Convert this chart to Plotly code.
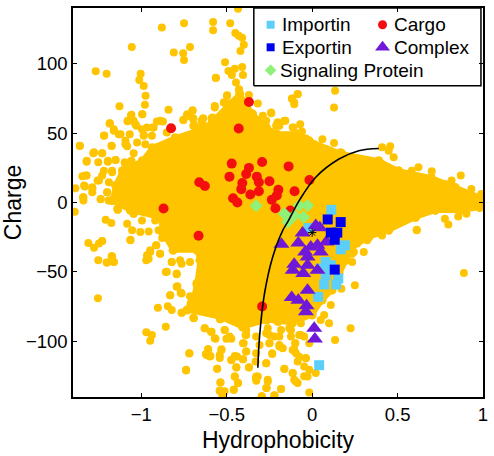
import plotly.graph_objects as go

# Dense core of the cloud (outline of the solid region)
core_x = [-1.169,-1.151,-1.11,-0.994,-0.936,-0.802,-0.628,-0.581,-0.483,-0.424,-0.349,-0.267,-0.209,-0.076,-0.017,0.174,0.39,0.506,0.698,0.837,0.985,0.98,0.872,0.721,0.605,0.448,0.331,0.233,0.198,0.157,0.116,0.058,0,-0.116,-0.267,-0.407,-0.541,-0.733,-0.698,-0.674,-0.657,-0.674,-0.814,-0.872,-0.89,-1.064]
core_y = [1.4,12.2,22.9,30.1,39.4,46.6,53.8,58.8,71,78.1,63.8,53.8,49.5,49.5,44.4,35.1,30.1,22.9,17.9,10.8,3.6,-3.6,-5.7,-5.7,-10.8,-20,-25.1,-32.3,-41.6,-50.9,-63.1,-70.3,-81,-86.7,-84.6,-89.6,-82.4,-77.4,-70.3,-58,-41.6,-34.4,-34.4,-22.2,-10.8,-5.7]

# Individual proteins outside the dense core
other_x = [-0.434,-0.88,-0.75,-0.58,-0.58,-0.48,-0.45,-0.43,-0.41,-0.40,-0.42,-0.715,-0.81,-0.755,-0.75,-1.056,-0.51,-0.49,-0.47,-0.453,-0.41,-0.405,-0.564,-0.446,-0.428,-1.267,-1.203,-1.004,-1.012,-0.986,-0.975,-0.979,-0.994,-1.128,-0.841,-0.70,-0.57,-0.517,-0.498,-1.36,-1.217,-1.184,-1.081,-1.06,-1.045,-1.029,-0.996,-0.986,-0.909,-0.874,-0.754,-0.734,-0.696,-0.641,-0.589,-0.686,-0.643,-0.579,-0.657,-1.281,-1.229,-1.174,-1.151,-1.32,-1.196,-1.097,-1.058,-1.345,-1.32,-1.335,-1.287,-1.287,-1.386,-1.339,-1.339,-1.238,-1.2,-1.19,-1.138,-1.39,-1.161,-1.132,-1.093,-1.083,-1.045,-0.967,-0.932,-0.938,-0.909,-0.812,-0.725,-0.851,-1.229,-1.248,-1.171,-1.107,-1.045,-1.093,-1.083,-1.045,-1.006,-0.967,-1.006,
 -1.31,-1.277,-1.248,-1.229,-1.252,-1.203,-1.174,-1.161,-1.254,-1.064,-0.967,-0.948,-0.913,-0.89,-0.971,-0.857,-0.822,-0.793,-0.764,-0.793,-0.831,-0.769,-0.903,-0.845,-0.822,-0.764,-0.692,-0.715,-0.705,-0.657,-0.857,-0.971,-0.938,-0.948,-0.63,-0.593,-0.566,-0.539,-0.512,-0.483,-0.719,-0.609,-0.622,-0.595,-0.738,-0.556,-0.541,-0.531,-0.473,-0.44,-0.405,-0.37,-0.444,-0.453,-0.434,-0.537,-0.541,-0.517,-0.525,-0.459,-0.386,-0.39,-0.405,-0.386,-0.328,-0.318,-0.328,-0.638,-0.579,-0.676,
 0.888,0.25,0.171,0.109,0.099,0.225,0.134,0.05,0.07,-0.017,-0.182,-0.221,-0.295,-0.269,-0.26,-0.328,-0.163,-0.114,-0.085,-0.105,-0.037,-0.085,-0.047,-0.017,-0.027,0.021,-0.234,-0.269,-0.328,-0.25,-0.192,-0.172,-0.114,-0.095,-0.099,-0.124,-0.182,-0.196,-0.221,-0.269,-0.26,-0.076,-0.047,-0.017,-0.066,0.234,0.244,0.302,0.322,0.264,0.409,0.341,0.612,0.234,
 0.134,0.128,-0.085,-0.118,-0.105,-0.24,-0.289,-0.157,-0.202,-0.211,-0.114,-0.07,-0.06,-0.037,0.06,0.128,0.167,0.457,0.409,0.448,0.477,0.622,0.7,0.87,0.816,0.777,0.932,0.99,0.99,0.903,0.855,0.777,0.797,0.612,0.583,0.525,0.68,0.012,0.079]
other_y = [139.5,126,129,130,124,129,122,120,118.5,113.5,109,112,108,107.5,102.5,112,101,94.6,91.8,96.3,97.5,91.8,89.6,86.3,81,94.4,92.7,92.7,88.2,83.9,76.9,70.3,63.6,69.3,66.7,66,68.3,71.9,76.9,40.6,48.3,57.1,58.5,62.6,58.8,55.2,52.8,48.5,58.3,58.3,59.3,62.4,60,60,60.7,55.2,54.5,54.5,46.8,35.4,35.4,40.6,30.6,29.4,29.4,28.4,29.4,18.9,19.4,12.2,11,7.4,10.3,3.8,1.4,2.4,7.4,1.4,-5.3,-6.7,51.6,49.2,44.4,40.4,35.4,54,54,48,39.7,33.7,48,50.4,19.4,15.8,22.9,19.4,18.2,7.4,1.4,-8.1,-3.3,6.2,25.3,
 -29.2,-32.5,-29.6,-27.7,-41.6,-43.2,-38.7,-42.8,-69,-26.8,-38,-35.6,-30.8,-36.8,-41.6,-50,-42.8,-51.6,-44,-60.7,-66.7,-65,-75.8,-74.6,-77.4,-79.3,-83.4,-75,-67.9,-72.6,-89.4,-93.4,-95.3,-99.6,-90.6,-93,-98,-84.1,-91.8,-96.5,-108.7,-105.6,-109,-110.4,-120.9,-119.7,-109.7,-105.6,-113.3,-110.9,-112.8,-118.5,-118.5,-125.2,-130,-129.5,-135.5,-136,-138.8,-134.8,-91.8,-95.3,-101.3,-107.3,-126.4,-125.2,-96.5,-63.1,-75,-59.5,
 -50.7,-59.5,-62.1,-73.8,-87,-90.6,-98.9,-84.6,-81,-136.7,-134.3,-138.8,-139.5,-133.6,-128.8,-126.4,-119.7,-122.8,-130,-127.6,-112.1,-114.5,-118,-120.4,-125.2,-122.8,-109,-115.7,-108.5,-101.3,-102.5,-104.9,-106.1,-108.5,-101.3,-91.8,-91.8,-85.8,-96.5,-94.2,-90.6,-95.3,-96.5,-101.3,-87,-42.8,-35.6,-35.6,-27.2,-29.6,-23.7,-21.3,-20,-36.8,
 80.5,68.3,78.1,74.6,71.9,64.3,62.4,58.8,57.6,55.2,54,56.4,51.1,46.1,45.6,42.8,36.1,40.4,39.7,37.3,32.5,25.3,22.5,19.4,15.8,13.4,9.8,6.2,-2.2,-8.1,-10,-11.7,-15.8,-19.6,22.9,20.5,17,42,38.5]

# Further proteins read from the closer views of the cloud's edge
edge_x = [-1.058,-0.995,-1.186,-1.079,-1.035,-1.161,-1.122,-1.219,-1.068,-0.986,-0.928,-0.89,-1.174,-1.093,-1.025,-0.977,-1.36,-1.277,-1.229,-1.32,-1.252,-1.196,-1.151,-1.097,-1.058,-1.219,-1.171,-1.112,-1.326,-1.256,-1.19,-1.331,-1.287,-1.341,-1.2,-1.238,-1.19,-1.141,-0.725,-0.696,-0.647,-0.734,-0.657,
 -1.138,-1.045,-1.209,-1.176,-1.083,-0.996,-0.919,-1.054,-1.006,-0.957,-0.899,-1.229,-1.064,-0.878,-0.913,-0.948,-0.89,-0.957,-1.171,-1.2,-1.161,-0.822,-0.773,-0.851,-0.793,-0.789,-0.831,-0.769,-0.715,-0.676,-0.715,
 -0.764,-0.764,-0.696,-0.711,-0.628,-0.589,-0.537,-0.57,-0.512,-0.502,-0.473,-0.401,-0.386,-0.719,-0.609,-0.618,-0.599,-0.531,-0.541,-0.738,-0.556,-0.473,-0.453,-0.405,-0.386,-0.444,-0.37,-0.331,-0.308,-0.25,-0.269,-0.234,-0.453,-0.434,-0.537,-0.541,-0.512,-0.521,-0.459,-0.327,-0.327,-0.26,-0.266,-0.182,-0.221,-0.295,-0.163,-0.114,-0.095,-0.192,-0.099,-0.105,-0.076,-0.037,-0.047,-0.25,-0.192,-0.124,-0.202,-0.134,-0.066,
 -0.564,-0.498,-0.428,-0.37,-0.57,-0.517,-0.7,-0.731,-0.754,-0.696,-0.638,-0.583,-0.692,-0.638,-0.583,-0.653,-0.318,-0.24,-0.269,-0.163,-0.202,-0.11,-0.118,-0.085,-0.105,-0.24,-0.192]
edge_y = [63.1,63.6,56.9,58.8,56.4,52.8,49.2,48,49.2,48,54,58.8,40.9,42,43.2,42,40.9,36.1,35.4,30.1,28.9,30.1,30.6,28.9,30.1,22.9,21.7,22.9,19.4,15.8,14.6,11.5,9.8,3.8,7.4,2.6,1.4,-4.5,62.4,55.2,58.8,46.8,46.8,
 -5.3,-8.1,-12.4,-14.8,-15.3,-12.9,-12.9,-20,-21.3,-20.8,-20,-27.7,-27.2,-25.6,-30.8,-34.4,-36.8,-40.4,-38.7,-43.2,-42.8,-42.8,-41.6,-49.9,-51.1,-60.2,-66.7,-65,-67.4,-58.3,-42.8,
 -65.5,-79.3,-83,-72.6,-90.6,-93,-84.1,-97.7,-91.8,-98,-98,-101.3,-95.3,-108.5,-105.6,-109.7,-110.9,-106.1,-112,-120.4,-119.7,-113.3,-110.4,-112.8,-107.3,-118.8,-118.8,-114.5,-102.5,-101.3,-115.7,-108.5,-125.2,-130,-129.5,-135.5,-135.9,-139,-134.8,-125.2,-128.3,-127.6,-133.6,-134.3,-139,-139.5,-119.9,-122.8,-128.8,-103.6,-101.3,-106,-111,-112,-125,-95.3,-96.5,-96.5,-85.8,-90.6,-95.3,
 89.8,77.2,81.5,77.4,69.5,71.9,66.4,63.6,59.3,60.7,60.7,61.2,55.2,55.7,56.4,46.8,71.2,64.8,58.8,58.8,57.6,54,74.8,77.9,70.7,50.4,55.2]

cargo_x = [-0.826,-0.37,-0.43,-0.661,-0.628,-0.87,-0.665,-0.471,-0.293,-0.138,-0.37,-0.386,-0.484,-0.324,-0.312,-0.25,-0.409,-0.415,-0.312,-0.362,-0.463,-0.438,-0.198,-0.207,-0.236,-0.215,-0.103,-0.016,-0.128,-0.293]
cargo_y = [53.5,72.4,53.3,14.6,11.9,-4.3,-23.9,28,29.2,26,24.9,20.5,18.6,18.6,14.6,15.3,14,9.6,8.1,5.7,3.1,0,9.1,5,1.9,-4.1,8.1,16.2,-5.7,-74.8]

signal_x = [-0.328,-0.027,-0.076,-0.05,-0.163,-0.143,-0.105]
signal_y = [-2.4,-2.2,-2.2,-10.5,-8.1,-14.1,-9.3]

importin_x = [0.112,-0.021,0.192,0.167,0.079,0.05,0.109,0.079,0.153,0.141,0.07,0.035,0.041]
importin_y = [-5.3,-18.4,-30.8,-33.7,-42.8,-47.6,-45.2,-52.3,-54.7,-59,-59,-67.9,-117.1]

exportin_x = [0.091,0.167,0.109,0.147,0.132,0.132]
exportin_y = [-12.2,-14.1,-21.7,-21.7,-26.8,-48.3]

complex_x = [0.021,0.045,-0.056,-0.18,-0.081,0.083,0.031,-0.008,-0.041,0.05,-0.027,-0.105,-0.114,-0.027,0.031,-0.052,-0.027,-0.12,-0.081,-0.033,-0.037,0.012,0.016]
complex_y = [-16.5,-18.2,-22,-30.1,-29.2,-28.4,-30.8,-32,-35.6,-35.6,-39.2,-44.4,-48.7,-45.2,-48.7,-51.1,-63.1,-68.3,-70.3,-74.3,-78.6,-90.6,-98.2]

star_x = [0]
star_y = [-21.7]

curve_x = [-0.318,-0.308,-0.279,-0.231,-0.172,-0.143,-0.076,0.021,0.157,0.273,0.39]
curve_y = [-119,-96.5,-65.5,-39.2,-20,-14,1.4,18.2,31.3,37.3,38.9]

ORANGE = "#FFC400"
RED = "#F40F0F"
GREEN = "#8FF07A"
LIGHT = "#5CCFF8"
BLUE = "#0000F0"
PURPLE = "#7018D8"
FONT = "Liberation Sans"

fig = go.Figure()
fig.add_trace(go.Scatter(x=core_x + core_x[:1], y=core_y + core_y[:1], mode="lines+markers", fill="toself",
                         fillcolor=ORANGE, line=dict(color=ORANGE, width=5),
                         marker=dict(color=ORANGE, size=9), showlegend=False, hoverinfo="skip"))
fig.add_trace(go.Scatter(x=other_x + edge_x, y=other_y + edge_y, mode="markers", name="All proteins", showlegend=False,
                         marker=dict(color=ORANGE, size=8, line=dict(width=0))))
fig.add_trace(go.Scatter(x=cargo_x, y=cargo_y, mode="markers", name="Cargo", showlegend=False,
                         marker=dict(color=RED, size=10, line=dict(width=0))))
fig.add_trace(go.Scatter(x=signal_x, y=signal_y, mode="markers", name="Signaling Protein", showlegend=False,
                         marker=dict(color=GREEN, size=10, symbol="diamond", line=dict(width=0))))
fig.add_trace(go.Scatter(x=importin_x, y=importin_y, mode="markers", name="Importin", showlegend=False,
                         marker=dict(color=LIGHT, size=10, symbol="square", line=dict(width=0))))
fig.add_trace(go.Scatter(x=complex_x, y=complex_y, mode="markers", name="Complex", showlegend=False,
                         marker=dict(color=PURPLE, size=14, symbol="triangle-up", line=dict(width=0))))
fig.add_trace(go.Scatter(x=exportin_x, y=exportin_y, mode="markers", name="Exportin", showlegend=False,
                         marker=dict(color=BLUE, size=10, symbol="square", line=dict(width=0))))
fig.add_trace(go.Scatter(x=curve_x, y=curve_y, mode="lines", line=dict(color="black", width=1.6, shape="spline"),
                         showlegend=False, hoverinfo="skip"))
fig.add_trace(go.Scatter(x=star_x, y=star_y, mode="markers", showlegend=False,
                         marker=dict(color="black", size=7, symbol="asterisk", line=dict(color="black", width=1))))

# Legend panel, drawn in axes-fraction coordinates on an overlay axis pair
box_x = [0.441, 0.995, 0.995, 0.441, 0.441]
box_y = [0.8, 0.8, 1.0, 1.0, 0.8]
fig.add_trace(go.Scatter(x=box_x, y=box_y, xaxis="x2", yaxis="y2", mode="lines", fill="toself", fillcolor="white",
                         line=dict(color="black", width=1.5), showlegend=False, hoverinfo="skip"))
legend_entries = [
    ("Importin", 0.482, 0.957, 0.513, LIGHT, "square", 8),
    ("Cargo", 0.755, 0.957, 0.785, RED, "circle", 9),
    ("Exportin", 0.482, 0.899, 0.513, BLUE, "square", 8),
    ("Complex", 0.755, 0.899, 0.785, PURPLE, "triangle-up", 13),
    ("Signaling Protein", 0.482, 0.84, 0.508, GREEN, "diamond", 9),
]
for text, kx, ky, tx, col, sym, size in legend_entries:
    fig.add_annotation(xref="paper", yref="paper", x=tx, y=ky, text=text, showarrow=False, xshift=-3,
                       xanchor="left", yanchor="middle", font=dict(family=FONT, size=19, color="black"))
    fig.add_trace(go.Scatter(x=[kx], y=[ky], xaxis="x2", yaxis="y2", mode="markers", showlegend=False,
                             hoverinfo="skip", marker=dict(color=col, size=size, symbol=sym, line=dict(width=0))))

axis = dict(showgrid=False, zeroline=False, showline=True, mirror="ticks", linecolor="black", linewidth=1.5,
            ticks="inside", ticklen=4, tickwidth=1.2, tickcolor="black",
            tickfont=dict(family=FONT, size=18.5, color="black"))
fig.update_layout(
    width=494, height=456, autosize=False, plot_bgcolor="white", paper_bgcolor="white", showlegend=False,
    margin=dict(l=73, r=9, t=6, b=59),
    xaxis=dict(range=[-1.4, 1], dtick=0.5, tick0=0, title=dict(text="Hydrophobicity", standoff=8,
               font=dict(family=FONT, size=23, color="black")), **axis),
    yaxis=dict(range=[-140, 140], dtick=50, tick0=0, title=dict(text="Charge", standoff=3,
               font=dict(family=FONT, size=23, color="black")), **axis),
    xaxis2=dict(range=[0, 1], overlaying="x", visible=False, fixedrange=True),
    yaxis2=dict(range=[0, 1], overlaying="y", visible=False, fixedrange=True),
)
fig.write_html("out.html", post_script="document.body.style.margin='0';", config={"displayModeBar": False})
